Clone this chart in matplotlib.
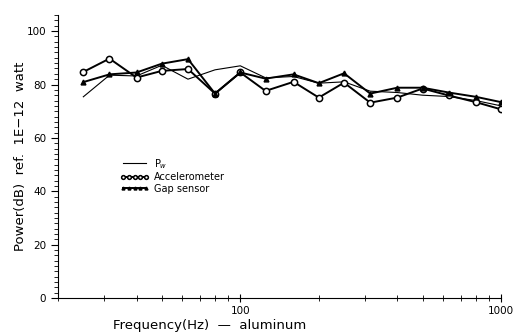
import matplotlib
matplotlib.use('Agg')
import matplotlib.pyplot as plt
from matplotlib.ticker import FixedLocator, MultipleLocator, LogLocator, NullFormatter

# third-octave band centres (Hz)
freq = [25, 31.5, 40, 50, 63, 80, 100, 125, 160, 200, 250, 315, 400, 500, 630, 800, 1000]
# sound power, dB re 1E-12 W
p_w = [75.4, 83.5, 83.2, 87.2, 82.0, 85.5, 87.0, 82.5, 83.0, 80.5, 81.0, 77.5, 77.0, 76.0, 75.5, 74.0, 72.0]
accel = [84.7, 89.7, 82.6, 85.1, 85.8, 76.6, 84.5, 77.6, 81.0, 75.1, 80.7, 73.2, 75.1, 78.5, 75.9, 73.4, 70.7]
gap = [80.9, 83.8, 84.5, 87.8, 89.5, 76.6, 84.5, 82.2, 83.8, 80.5, 84.2, 76.6, 78.8, 78.8, 77.0, 75.4, 73.4]

fig = plt.figure(figsize=(5.23, 3.35), dpi=100)
ax = fig.add_axes([0.111, 0.110, 0.847, 0.845])

ax.plot(freq, p_w, color='black', lw=0.8, label='P$_w$')
ax.plot(freq, accel, color='black', lw=1.4, marker='o', ms=4.5, mfc='white', mew=1.1,
        label='Accelerometer')
ax.plot(freq, gap, color='black', lw=1.4, marker='^', ms=3.5, label='Gap sensor')

ax.set_xscale('log')
ax.set_xlim(20, 1000)
ax.set_ylim(0, 106)

ax.xaxis.set_major_locator(FixedLocator([100, 1000]))
ax.xaxis.set_major_formatter(matplotlib.ticker.FixedFormatter(['100', '1000']))
ax.xaxis.set_minor_locator(LogLocator(base=10, subs=range(2, 10)))
ax.xaxis.set_minor_formatter(NullFormatter())
ax.yaxis.set_major_locator(MultipleLocator(20))
ax.yaxis.set_minor_locator(MultipleLocator(2))

ax.tick_params(axis='x', which='both', direction='inout', labelsize=7.5, pad=3)
ax.tick_params(axis='x', which='major', length=6)
ax.tick_params(axis='x', which='minor', length=4)
ax.tick_params(axis='y', which='both', direction='out', labelsize=7.5)
ax.tick_params(axis='y', which='major', length=5)
ax.tick_params(axis='y', which='minor', length=3)

for s in ['top', 'right']:
    ax.spines[s].set_visible(False)

ax.set_xlabel('Frequency(Hz)  \u2014  aluminum', fontsize=9.5)
ax.xaxis.set_label_coords(0.343, -0.095, transform=ax.transAxes)
ax.xaxis.label.set_va('center')
ax.set_ylabel('Power(dB)  ref.  1E\u221212  watt', fontsize=9.5)
ax.yaxis.set_label_coords(-0.085, 0.5, transform=ax.transAxes)
ax.yaxis.label.set_va('center')

ax.legend(loc='upper left', bbox_to_anchor=(0.12, 0.53), frameon=False, fontsize=7,
          numpoints=5, handlelength=3.0, handletextpad=0.5, labelspacing=0.15,
          markerscale=0.6)

fig.savefig('out.png', dpi=100)
